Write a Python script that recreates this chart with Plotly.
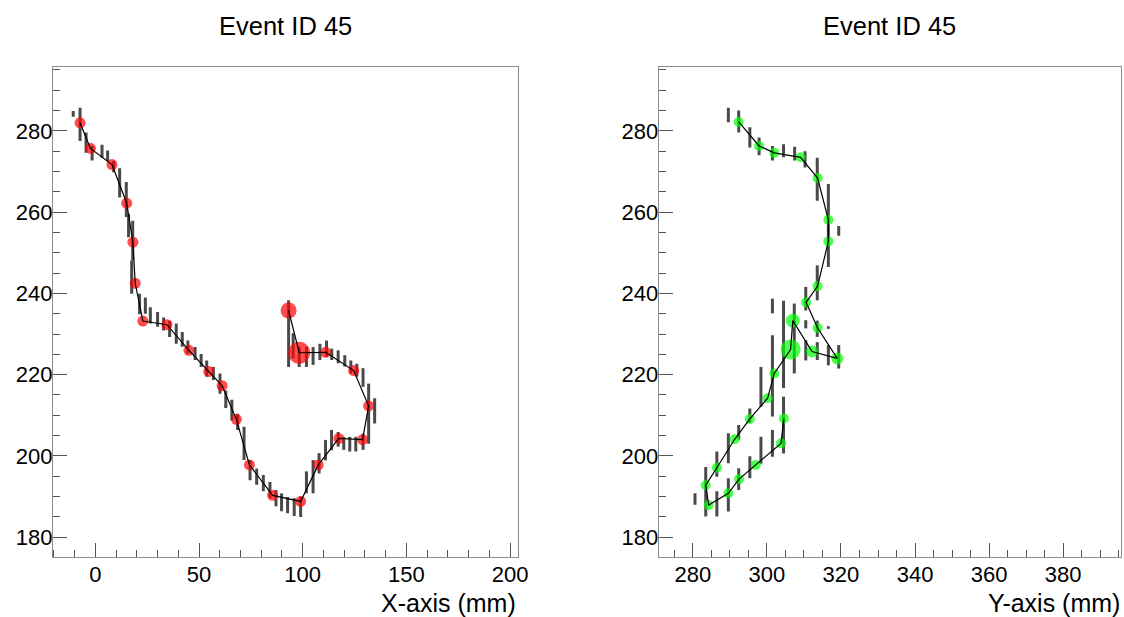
import plotly.graph_objects as go

# ---------------- Left panel (X view) ----------------
# hits: strip x position, drift position, half-length of the drift window
hits_x_pos = [-7.4, -10.7, -4.5, -1.6, 3.2, 5.9, 8.8, 11.7, 14.9, 16.0, 18.0, 17.5,
              21.3, 24.1, 26.5, 30.0, 32.9, 35.8, 39.0, 41.9, 44.6, 48.1, 51.0, 53.7,
              56.9, 60.1, 62.9, 65.8, 68.6, 71.7, 74.6, 77.8, 81.0, 84.2, 87.1, 89.8,
              92.7, 95.9, 99.0, 101.8, 105.0, 107.9, 111.0, 113.9, 117.1, 119.8, 122.7,
              125.6, 129.1, 131.8, 134.7, 129.1, 126.1, 123.2, 120.3, 117.1, 114.0,
              111.5, 108.3, 105.0, 101.8, 98.3, 93.2, 95.4, 62.9]
hits_x_z = [281.6, 284.2, 277.1, 274.5, 275.0, 273.9, 271.2, 267.2, 263.1, 256.7, 253.0, 244.0,
            237.4, 237.0, 234.6, 233.6, 232.5, 231.3, 230.1, 228.7, 226.8, 225.2, 223.5, 221.5,
            220.3, 217.8, 214.1, 211.3, 208.4, 203.1, 196.5, 194.9, 193.3, 191.6, 189.6, 188.6,
            187.9, 187.4, 187.5, 193.5, 194.9, 198.2, 201.4, 203.9, 204.1, 203.1, 202.9,
            202.9, 203.5, 210.4, 211.1, 219.3, 221.1, 221.9, 223.4, 224.4, 225.0,
            226.4, 225.6, 224.6, 224.4, 224.4, 230.1, 227.1, 212.1]
hits_x_err = [4.1, 0.7, 2.5, 1.8, 1.6, 1.3, 1.4, 3.6, 4.3, 2.9, 4.9, 4.1,
              2.5, 2.0, 2.0, 1.8, 1.6, 2.0, 2.5, 1.8, 1.6, 1.6, 1.6, 2.0,
              1.6, 2.5, 2.0, 2.5, 2.0, 4.1, 2.5, 2.0, 2.0, 2.0, 2.0, 2.2,
              2.0, 2.2, 2.5, 2.7, 4.1, 2.5, 2.5, 2.5, 1.8, 1.6, 1.8,
              1.8, 2.0, 7.4, 3.1, 2.3, 1.6, 1.6, 1.4, 1.6, 1.4,
              2.0, 2.0, 2.2, 2.5, 2.5, 8.2, 3.1, 0.3]

# clusters (track points) in drawing order
clus_x_pos = [-7.4, -2.4, 8.0, 15.1, 18.1, 19.2, 22.9, 34.5, 45.1, 54.7, 61.1, 68.0,
              74.3, 85.5, 99.0, 107.5, 117.4, 128.9, 131.8, 124.6, 111.1, 98.3, 93.2]
clus_x_z = [282.0, 275.7, 271.7, 262.2, 252.6, 242.5, 233.2, 232.3, 226.0, 220.8, 217.3, 209.0,
            197.8, 190.3, 188.8, 197.8, 204.3, 204.0, 212.3, 221.0, 225.5, 225.4, 235.8]
clus_x_size = [11, 11, 11, 11, 11, 11, 11, 11, 11, 11, 11, 11,
               11, 11, 11, 11, 11, 11, 11, 11, 11, 22, 16]

# ---------------- Right panel (Y view) ----------------
hits_y_pos = [289.6, 292.4, 295.4, 297.9, 301.5, 304.5, 307.5, 310.3, 313.6, 316.6, 319.4,
              313.6, 310.5, 310.5, 313.6, 316.6, 301.5, 304.5, 307.4, 301.5, 298.4,
              310.5, 313.6, 316.6, 319.4, 304.5, 304.5, 301.5, 298.4, 295.4, 292.4,
              289.6, 286.5, 283.5, 280.6, 286.5, 289.6, 292.4, 295.4]
hits_y_z = [283.9, 282.3, 278.4, 276.2, 274.5, 275.1, 274.4, 273.0, 268.1, 256.7, 255.4,
            242.6, 238.7, 232.4, 231.3, 231.6, 236.9, 228.0, 228.9, 219.7, 217.0,
            226.0, 225.8, 224.8, 224.4, 218.1, 207.6, 203.1, 201.4, 209.9, 205.8,
            201.9, 198.0, 191.2, 189.4, 188.2, 190.4, 194.3, 197.2]
hits_y_err = [1.8, 2.7, 2.5, 2.2, 1.8, 1.6, 1.7, 2.0, 5.3, 10.2, 1.2,
              4.3, 2.9, 1.0, 2.0, 0.3, 1.8, 10.2, 8.6, 10.0, 4.9,
              2.5, 2.2, 2.5, 2.9, 1.4, 7.0, 3.3, 3.3, 1.8, 1.8,
              3.7, 3.1, 6.1, 1.4, 3.1, 4.1, 2.7, 2.7]

clus_y_pos = [292.4, 297.9, 302.0, 309.1, 313.7, 316.6, 316.6, 313.7, 310.6, 313.7, 319.0,
              312.2, 307.0, 306.4, 302.0, 300.2, 295.4, 291.3, 286.5, 283.5, 284.3,
              289.6, 292.5, 297.0, 303.8, 304.6]
clus_y_z = [282.2, 276.3, 274.6, 273.5, 268.4, 258.1, 252.8, 241.8, 237.8, 231.5, 224.0,
            225.7, 233.3, 226.2, 220.3, 214.2, 209.1, 204.1, 197.1, 192.8, 187.9,
            190.8, 194.3, 197.8, 203.1, 209.2]
clus_y_size = [10, 10, 10, 10, 10, 10, 10, 10, 10, 10, 12,
               12, 14, 20, 10, 10, 10, 10, 10, 10, 10,
               10, 10, 10, 10, 10]

title_text = "Event ID 45"
x_title = "X-axis (mm)"
y_title = "Y-axis (mm)"

FONT = "Liberation Sans, Arial, Helvetica, sans-serif"
HIT_COLOR = "#4a4a4a"

fig = go.Figure()


def add_panel(xa, ya, hx, hz, he, cx, cz, cs, color):
    fig.add_trace(go.Scatter(
        x=hx, y=hz, mode="markers", xaxis=xa, yaxis=ya,
        marker=dict(size=2, color=HIT_COLOR),
        error_y=dict(type="data", array=he, symmetric=True, width=0,
                     thickness=3, color=HIT_COLOR),
        showlegend=False, hoverinfo="skip"))
    fig.add_trace(go.Scatter(
        x=cx, y=cz, mode="markers", xaxis=xa, yaxis=ya,
        marker=dict(size=cs, color=color, line=dict(width=0)),
        showlegend=False))
    fig.add_trace(go.Scatter(
        x=cx, y=cz, mode="lines", xaxis=xa, yaxis=ya,
        line=dict(color="black", width=1.2),
        showlegend=False, hoverinfo="skip"))


add_panel("x", "y", hits_x_pos, hits_x_z, hits_x_err,
          clus_x_pos, clus_x_z, clus_x_size, "#ff0000")
add_panel("x2", "y2", hits_y_pos, hits_y_z, hits_y_err,
          clus_y_pos, clus_y_z, clus_y_size, "#00ff00")

W, H = 1124, 617
yd = [1 - 556.7 / H, 1 - 66.7 / H]

axis_common = dict(
    showgrid=False, zeroline=False, showline=True, mirror=True,
    linecolor="#8c8c8c", linewidth=1,
    ticks="inside", ticklen=14, tickcolor="#555555", tickwidth=1,
    tickfont=dict(family=FONT, size=22, color="black"),
)
minor_common = dict(ticks="inside", ticklen=7, tick0=0, tickcolor="#555555")

fig.update_layout(
    width=W, height=H,
    paper_bgcolor="white", plot_bgcolor="white",
    margin=dict(l=0, r=0, t=0, b=0, autoexpand=False),
    xaxis=dict(domain=[52.9 / W, 517.9 / W], range=[-20.5, 203.8],
               tick0=0, dtick=50, minor=dict(dtick=10, **minor_common),
               ticklabelstandoff=-2, anchor="y", **axis_common),
    yaxis=dict(domain=yd, range=[175.2, 295.8], tick0=0, dtick=20,
               minor=dict(dtick=5, **minor_common),
               ticklabelstandoff=-5, anchor="x", **axis_common),
    xaxis2=dict(domain=[658.7 / W, 1121.0 / W], range=[270.8, 395.6],
                tick0=0, dtick=20, minor=dict(dtick=5, **minor_common),
                ticklabelstandoff=-2, anchor="y2", **axis_common),
    yaxis2=dict(domain=yd, range=[175.2, 295.8], tick0=0, dtick=20,
                minor=dict(dtick=5, **minor_common),
                ticklabelstandoff=-5, anchor="x2", **axis_common),
    annotations=[
        dict(text=title_text, x=285.4 / W, y=1 - 26.0 / H,
             xref="paper", yref="paper", xanchor="center", yanchor="middle",
             showarrow=False, font=dict(family=FONT, size=25.5, color="black")),
        dict(text=title_text, x=890.0 / W, y=1 - 26.0 / H,
             xref="paper", yref="paper", xanchor="center", yanchor="middle",
             showarrow=False, font=dict(family=FONT, size=25.5, color="black")),
        dict(text=x_title, x=518.0 / W, y=1 - 603.0 / H,
             xref="paper", yref="paper", xanchor="right", yanchor="middle",
             showarrow=False, font=dict(family=FONT, size=25, color="black")),
        dict(text=y_title, x=1122.0 / W, y=1 - 603.0 / H,
             xref="paper", yref="paper", xanchor="right", yanchor="middle",
             showarrow=False, font=dict(family=FONT, size=25, color="black")),
    ],
)

fig.write_html(
    "out.html",
    config={"displayModeBar": False},
    post_script=("document.body.style.margin='0';"
                 "document.body.style.overflow='hidden';"
                 "document.documentElement.style.overflow='hidden';"),
)
